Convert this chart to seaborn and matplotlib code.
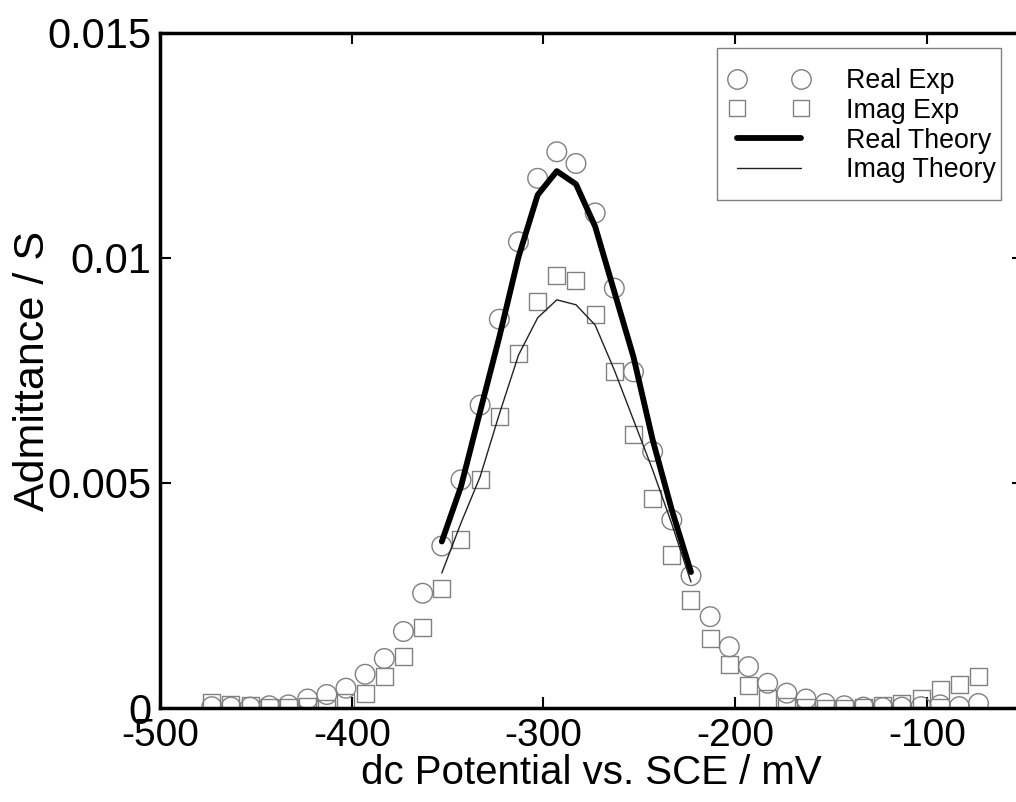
import matplotlib
matplotlib.use("Agg")
import matplotlib.pyplot as plt
from matplotlib.lines import Line2D
from matplotlib.patches import Rectangle
import pandas as pd
import seaborn as sns

# ---------------- data ----------------
potential = [-473, -463, -453, -443, -433, -423, -413, -403, -393, -383,
             -373, -363, -353, -343, -333, -323, -313, -303, -293, -283,
             -273, -263, -253, -243, -233, -223, -213, -203, -193, -183,
             -173, -163, -153, -143, -133, -123, -113, -103, -93, -83, -73]
real_exp = [0.00003, 0.00002, 0.00002, 0.00005, 0.00007, 0.00020, 0.00030, 0.00044, 0.00075, 0.00110,
            0.00170, 0.00255, 0.00360, 0.00507, 0.00673, 0.00864, 0.01036, 0.01177, 0.01236, 0.01210,
            0.01100, 0.00933, 0.00747, 0.00570, 0.00418, 0.00294, 0.00203, 0.00136, 0.00092, 0.00055,
            0.00033, 0.00020, 0.00010, 0.00005, 0.00002, 0.00001, 0.00002, 0.00003, 0.00007, 0.00003, 0.00010]
imag_exp = [0.00012, 0.00008, 0.00005, 0.00002, 0.00002, 0.00003, 0.00000, 0.00013, 0.00032, 0.00069,
            0.00114, 0.00179, 0.00266, 0.00375, 0.00507, 0.00647, 0.00788, 0.00903, 0.00960, 0.00951,
            0.00875, 0.00747, 0.00607, 0.00466, 0.00340, 0.00240, 0.00155, 0.00096, 0.00051, 0.00020,
            0.00003, 0.00002, 0.00000, 0.00000, 0.00002, 0.00005, 0.00010, 0.00022, 0.00040, 0.00053, 0.00070]

theory_potential = [-353, -343, -333, -323, -313, -303, -293, -283, -273, -263, -253, -243, -233, -223]
real_theory = [0.00370, 0.00492, 0.00659, 0.00824, 0.01002, 0.01140, 0.01193, 0.01164,
               0.01070, 0.00925, 0.00780, 0.00596, 0.00440, 0.00302]
imag_theory = [0.00300, 0.00411, 0.00514, 0.00653, 0.00784, 0.00867, 0.00907, 0.00896,
               0.00851, 0.00751, 0.00640, 0.00529, 0.00409, 0.00280]

x_ticks = [-500, -400, -300, -200, -100]
x_tick_labels = ["-500", "-400", "-300", "-200", "-100"]
y_ticks = [0, 0.005, 0.01, 0.015]
y_tick_labels = ["0", "0.005", "0.01", "0.015"]
legend_labels = ["Real Exp", "Imag Exp", "Real Theory", "Imag Theory"]

exp_df = pd.DataFrame({"potential": potential, "real": real_exp, "imag": imag_exp})
th_df = pd.DataFrame({"potential": theory_potential, "real": real_theory, "imag": imag_theory})

# ---------------- style ----------------
sns.set_theme(style="ticks")
plt.rcParams["font.family"] = ["Liberation Sans", "DejaVu Sans"]
plt.rcParams["axes.unicode_minus"] = False
for key in ("text.color", "axes.labelcolor", "xtick.color", "ytick.color", "axes.edgecolor"):
    plt.rcParams[key] = "black"

W, H = 1016, 802
fig = plt.figure(figsize=(W / 100, H / 100), dpi=100)
ax = fig.add_axes([0.1575, 0.1172, 0.849, 0.8417])

grey = "#808080"
sns.scatterplot(data=exp_df, x="potential", y="real", marker="o", s=200,
                color=grey, facecolor="none", edgecolor=grey, linewidth=1.0,
                ax=ax, zorder=2, legend=False)
sns.scatterplot(data=exp_df, x="potential", y="imag", marker="s", s=150,
                color=grey, facecolor="none", edgecolor=grey, linewidth=1.0,
                ax=ax, zorder=2, legend=False)
sns.lineplot(data=th_df, x="potential", y="real", color="black", linewidth=4.2,
             ax=ax, zorder=3, legend=False)
sns.lineplot(data=th_df, x="potential", y="imag", color="#222222", linewidth=1.0,
             ax=ax, zorder=3, legend=False)

ax.set_xlim(-500, -50)
ax.set_ylim(0, 0.015)
ax.set_xticks(x_ticks)
ax.set_xticklabels(x_tick_labels)
ax.set_yticks(y_ticks)
ax.set_yticklabels(y_tick_labels)

ax.tick_params(axis="both", direction="in", length=8, width=1.5, color="black",
               labelcolor="black", top=True, right=True)
ax.tick_params(axis="x", labelsize=28, pad=7)
ax.tick_params(axis="y", labelsize=30, pad=6)
for sp in ax.spines.values():
    sp.set_linewidth(2.5)
    sp.set_color("black")

ax.set_xlabel("dc Potential vs. SCE / mV", fontsize=29, labelpad=0, color="black")
ax.set_ylabel("Admittance / S", fontsize=31, color="black")
ax.yaxis.set_label_coords(-0.124, 0.5)

# legend box (MATLAB-style, asymmetric padding)
ax.add_patch(Rectangle((717 / W, 1 - 200 / H), 284 / W, 152 / H, transform=fig.transFigure,
                       facecolor="white", edgecolor=grey, linewidth=1.0,
                       zorder=4, clip_on=False))
handles = [
    Line2D([], [], ls="none", marker="o", ms=14, mfc="none", mec=grey, mew=1.0),
    Line2D([], [], ls="none", marker="s", ms=12, mfc="none", mec=grey, mew=1.0),
    Line2D([], [], color="black", lw=4.2),
    Line2D([], [], color="#222222", lw=1.0),
]
leg = ax.legend(handles, legend_labels, numpoints=2, loc="upper left",
                bbox_to_anchor=(729 / W, 1 - 68 / H), bbox_transform=fig.transFigure,
                fontsize=19.3, frameon=False, borderpad=0, labelspacing=0.14,
                handlelength=3.0, handletextpad=1.37, borderaxespad=0)
leg.set_zorder(5)
for t in leg.get_texts():
    t.set_color("black")

fig.savefig("out.png", dpi=100)
